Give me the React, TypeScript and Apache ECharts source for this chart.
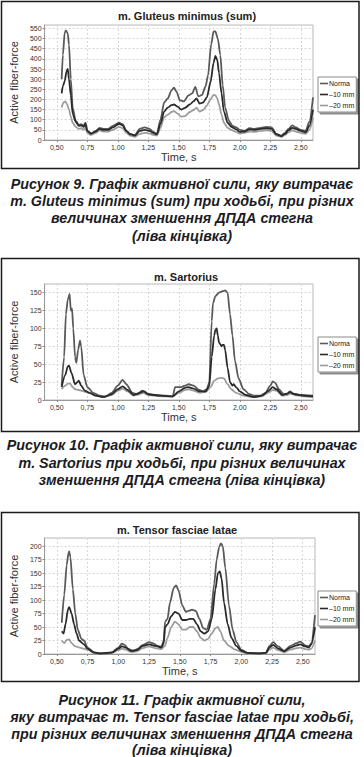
import React, { useEffect, useRef } from 'react';
import * as echarts from 'echarts';

const seriesNames = ['Norma', '–10 mm', '–20 mm'];
const chartTitles = ['m. Gluteus minimus (sum)', 'm. Sartorius', 'm. Tensor fasciae latae'];
const xAxisTitle = 'Time, s';
const yAxisTitle = 'Active fiber-force';
const xTicks = [0.5, 0.75, 1.0, 1.25, 1.5, 1.75, 2.0, 2.25, 2.5];
const gluteusTicks = [0, 50, 100, 150, 200, 250, 300, 350, 400, 450, 500, 550];
const sartoriusTicks = [0, 25, 50, 75, 100, 125, 150];
const tensorTicks = [0, 25, 50, 75, 100, 125, 150, 175, 200];

const gluteusNorma = [[0.54,300],[0.55,420],[0.565,530],[0.575,540],[0.59,525],[0.60,470],[0.615,300],[0.63,160],[0.655,95],[0.68,75],[0.70,78],[0.72,70],[0.735,85],[0.75,45],[0.78,30],[0.82,45],[0.85,60],[0.88,55],[0.92,55],[0.96,70],[1.01,85],[1.04,78],[1.07,45],[1.10,28],[1.14,25],[1.18,55],[1.22,62],[1.26,55],[1.29,40],[1.32,30],[1.35,100],[1.38,185],[1.41,205],[1.44,245],[1.46,258],[1.48,240],[1.51,195],[1.54,190],[1.58,220],[1.61,230],[1.635,262],[1.66,215],[1.69,222],[1.72,265],[1.74,320],[1.765,470],[1.785,535],[1.80,535],[1.82,500],[1.84,420],[1.86,270],[1.88,160],[1.91,95],[1.94,70],[1.97,62],[2.00,50],[2.04,45],[2.08,58],[2.12,55],[2.17,60],[2.22,65],[2.26,62],[2.30,30],[2.34,22],[2.37,35],[2.40,55],[2.43,72],[2.46,62],[2.50,50],[2.54,45],[2.57,90],[2.60,210]];
const gluteusMinus10 = [[0.54,230],[0.55,265],[0.565,290],[0.58,340],[0.59,350],[0.60,300],[0.615,220],[0.63,130],[0.655,90],[0.68,70],[0.70,72],[0.72,65],[0.735,80],[0.75,45],[0.78,32],[0.82,42],[0.85,55],[0.88,50],[0.92,50],[0.96,62],[1.01,80],[1.04,72],[1.07,45],[1.10,30],[1.14,22],[1.18,45],[1.22,50],[1.26,45],[1.29,35],[1.32,28],[1.35,80],[1.38,140],[1.41,160],[1.44,172],[1.46,175],[1.49,165],[1.52,150],[1.55,158],[1.59,175],[1.62,190],[1.645,205],[1.67,180],[1.70,185],[1.73,210],[1.76,285],[1.785,380],[1.80,415],[1.815,395],[1.83,330],[1.85,230],[1.87,140],[1.90,85],[1.93,65],[1.97,52],[2.00,40],[2.04,42],[2.08,52],[2.12,50],[2.17,55],[2.22,58],[2.26,55],[2.30,28],[2.34,18],[2.37,30],[2.40,48],[2.43,60],[2.46,55],[2.50,45],[2.54,38],[2.57,70],[2.60,150]];
const gluteusMinus20 = [[0.54,160],[0.555,185],[0.57,190],[0.585,175],[0.60,150],[0.615,115],[0.63,85],[0.655,65],[0.68,55],[0.70,58],[0.72,50],[0.735,60],[0.75,35],[0.78,25],[0.82,35],[0.85,48],[0.88,42],[0.92,42],[0.96,50],[1.01,65],[1.04,58],[1.07,35],[1.10,22],[1.14,16],[1.18,30],[1.22,35],[1.26,33],[1.29,25],[1.32,22],[1.35,60],[1.38,112],[1.41,125],[1.44,138],[1.46,142],[1.49,130],[1.52,115],[1.55,118],[1.59,138],[1.62,148],[1.645,160],[1.67,140],[1.70,148],[1.73,170],[1.76,200],[1.785,222],[1.80,220],[1.815,205],[1.83,175],[1.85,125],[1.87,85],[1.90,60],[1.93,50],[1.97,40],[2.00,32],[2.04,35],[2.08,42],[2.12,40],[2.17,45],[2.22,48],[2.26,44],[2.30,22],[2.34,15],[2.37,25],[2.40,38],[2.43,48],[2.46,42],[2.50,35],[2.54,30],[2.57,50],[2.60,110]];

const sartoriusNorma = [[0.54,20],[0.56,60],[0.575,120],[0.59,140],[0.605,148],[0.615,125],[0.625,128],[0.635,100],[0.65,60],[0.66,52],[0.675,70],[0.69,83],[0.70,75],[0.72,35],[0.75,18],[0.80,10],[0.85,6],[0.90,5],[0.95,10],[1.00,20],[1.04,28],[1.07,22],[1.12,10],[1.16,8],[1.20,13],[1.22,12],[1.25,8],[1.30,7],[1.40,6],[1.45,5],[1.47,18],[1.52,18],[1.55,20],[1.58,22],[1.62,20],[1.67,14],[1.70,12],[1.73,15],[1.75,25],[1.77,110],[1.78,135],[1.80,145],[1.83,150],[1.86,152],[1.88,153],[1.90,150],[1.92,120],[1.94,90],[1.96,55],[1.99,30],[2.03,15],[2.08,8],[2.12,6],[2.17,6],[2.21,10],[2.25,20],[2.27,26],[2.29,24],[2.32,15],[2.36,8],[2.39,9],[2.41,12],[2.44,9],[2.50,7],[2.60,6]];
const sartoriusMinus10 = [[0.54,18],[0.57,35],[0.59,47],[0.60,48],[0.62,38],[0.65,22],[0.67,25],[0.68,27],[0.70,20],[0.73,13],[0.77,10],[0.82,6],[0.88,4],[0.95,8],[1.00,15],[1.04,19],[1.08,14],[1.13,7],[1.18,10],[1.21,12],[1.25,8],[1.35,6],[1.45,5],[1.50,12],[1.55,17],[1.58,18],[1.62,16],[1.67,12],[1.72,12],[1.75,20],[1.77,60],[1.79,90],[1.80,98],[1.81,100],[1.82,90],[1.83,80],[1.84,78],[1.85,75],[1.86,77],[1.87,77],[1.88,70],[1.90,45],[1.92,25],[1.94,20],[1.95,22],[1.97,18],[2.00,12],[2.05,7],[2.12,4],[2.18,6],[2.23,12],[2.27,18],[2.30,15],[2.35,7],[2.39,9],[2.41,11],[2.45,8],[2.52,6],[2.60,5]];
const sartoriusMinus20 = [[0.54,15],[0.57,20],[0.59,23],[0.61,23],[0.63,18],[0.65,15],[0.68,14],[0.72,12],[0.76,10],[0.82,6],[0.88,4],[0.95,7],[1.00,13],[1.04,16],[1.08,12],[1.13,6],[1.18,8],[1.21,10],[1.25,7],[1.35,5],[1.45,5],[1.50,10],[1.55,14],[1.58,15],[1.62,13],[1.67,10],[1.72,11],[1.76,18],[1.79,27],[1.82,30],[1.85,31],[1.87,30],[1.90,22],[1.93,15],[1.97,10],[2.03,6],[2.10,4],[2.18,5],[2.23,10],[2.27,14],[2.30,13],[2.35,6],[2.39,7],[2.41,9],[2.45,7],[2.52,5],[2.60,4]];

const tensorNorma = [[0.54,58],[0.56,110],[0.58,165],[0.595,188],[0.60,190],[0.61,180],[0.63,120],[0.65,75],[0.67,45],[0.70,28],[0.72,25],[0.75,12],[0.80,3],[0.85,1],[0.90,1],[0.95,3],[1.00,12],[1.03,19],[1.05,17],[1.08,10],[1.12,5],[1.16,10],[1.20,17],[1.25,22],[1.28,20],[1.32,15],[1.35,13],[1.37,25],[1.38,60],[1.40,65],[1.42,95],[1.45,122],[1.47,127],[1.49,118],[1.52,90],[1.55,78],[1.57,80],[1.60,82],[1.63,80],[1.66,65],[1.69,48],[1.72,45],[1.75,65],[1.78,130],[1.80,175],[1.82,198],[1.835,205],[1.85,200],[1.87,160],[1.90,90],[1.93,45],[1.96,22],[2.00,8],[2.05,2],[2.10,1],[2.15,1],[2.20,2],[2.23,15],[2.26,22],[2.30,14],[2.35,6],[2.40,15],[2.45,20],[2.48,23],[2.52,16],[2.55,14],[2.57,20],[2.60,72]];
const tensorMinus10 = [[0.54,42],[0.555,38],[0.57,55],[0.59,82],[0.60,87],[0.62,75],[0.64,55],[0.66,38],[0.68,25],[0.72,18],[0.75,10],[0.80,3],[0.85,1],[0.95,3],[1.00,10],[1.03,14],[1.06,12],[1.10,6],[1.15,7],[1.20,15],[1.25,18],[1.30,15],[1.35,12],[1.37,20],[1.38,50],[1.40,55],[1.43,70],[1.46,78],[1.49,75],[1.52,63],[1.55,63],[1.58,65],[1.61,65],[1.64,55],[1.67,42],[1.70,38],[1.73,42],[1.76,65],[1.79,120],[1.81,150],[1.825,153],[1.84,140],[1.86,95],[1.89,55],[1.92,30],[1.96,15],[2.00,6],[2.05,2],[2.15,1],[2.20,2],[2.23,12],[2.26,17],[2.30,10],[2.35,5],[2.40,12],[2.45,16],[2.48,18],[2.52,14],[2.55,12],[2.57,18],[2.60,50]];
const tensorMinus20 = [[0.54,25],[0.56,20],[0.58,26],[0.60,27],[0.62,20],[0.65,14],[0.70,11],[0.75,8],[0.80,2],[0.85,1],[0.95,2],[1.00,7],[1.03,10],[1.06,8],[1.10,4],[1.15,5],[1.20,11],[1.25,14],[1.30,11],[1.35,9],[1.38,15],[1.40,30],[1.43,50],[1.46,60],[1.49,55],[1.52,45],[1.55,45],[1.58,50],[1.61,50],[1.64,42],[1.67,30],[1.70,25],[1.73,28],[1.76,38],[1.79,48],[1.81,50],[1.83,42],[1.86,25],[1.90,15],[1.95,8],[2.00,4],[2.05,1],[2.15,1],[2.20,2],[2.23,8],[2.26,12],[2.30,7],[2.35,3],[2.40,8],[2.45,11],[2.48,12],[2.52,9],[2.55,8],[2.57,10],[2.60,25]];

const caption9 = ['Рисунок 9. Графік активної сили, яку витрачає', 'm. Gluteus minimus (sum) при ходьбі, при різних', 'величинах зменшення ДПДА стегна', '(ліва кінцівка)'];
const caption10 = ['Рисунок 10. Графік активної сили, яку витрачає', 'm. Sartorius при ходьбі, при різних величинах', 'зменшення ДПДА стегна (ліва кінцівка)'];
const caption11 = ['Рисунок 11. Графік активної сили,', 'яку витрачає m. Tensor fasciae latae при ходьбі,', 'при різних величинах зменшення ДПДА стегна', '(ліва кінцівка)'];

const lineColors = ['#5a5a5a', '#2a2a2a', '#9c9c9c'];
const FONT = '"Liberation Sans", Arial, sans-serif';

const panels = [
  { data: [gluteusNorma, gluteusMinus10, gluteusMinus20], yTicks: gluteusTicks, yMax: 567, frameTop: 1, frameH: 167, gridTop: 25, gridH: 115, left: 37, width: 276, titleX: 187, titleY: 16, legendTop: 77, caption: caption9, capY: 184, capStep: 17.2 },
  { data: [sartoriusNorma, sartoriusMinus10, sartoriusMinus20], yTicks: sartoriusTicks, yMax: 162, frameTop: 258, frameH: 173, gridTop: 284, gridH: 116, left: 38, width: 275, titleX: 186, titleY: 277, legendTop: 337, caption: caption10, capY: 445, capStep: 17.7 },
  { data: [tensorNorma, tensorMinus10, tensorMinus20], yTicks: tensorTicks, yMax: 215, frameTop: 512, frameH: 169, gridTop: 538, gridH: 116, left: 38, width: 277, titleX: 177, titleY: 530, legendTop: 591, caption: caption11, capY: 700, capStep: 16.8 },
];

export default function App() {
  const ref = useRef<HTMLDivElement>(null);
  useEffect(() => {
    if (!ref.current) return;
    const chart = echarts.init(ref.current, undefined, { renderer: 'svg' });
    const grid: any[] = [];
    const xAxis: any[] = [];
    const yAxis: any[] = [];
    const series: any[] = [];
    const title: any[] = [];
    const legend: any[] = [];
    const graphic: any[] = [];
    panels.forEach((p, i) => {
      grid.push({ left: p.left, top: p.gridTop, width: p.width, height: p.gridH, show: true, borderColor: '#b8b8b8', borderWidth: 1, backgroundColor: '#fff' });
      xAxis.push({
        type: 'value', gridIndex: i, min: 0.4, max: 2.6,
        name: xAxisTitle, nameLocation: 'middle', nameGap: 11,
        nameTextStyle: { fontSize: 11, color: '#333', fontFamily: FONT },
        axisLine: { show: true, lineStyle: { color: '#999' } },
        axisTick: { show: true, length: 2, customValues: xTicks, lineStyle: { color: '#888' } },
        axisLabel: { customValues: xTicks, fontSize: 7, color: '#333', margin: 4, fontFamily: FONT, formatter: (v: number) => v.toFixed(2).replace('.', ',') },
        splitLine: { show: true, lineStyle: { color: '#d6d6d6', type: [2, 2], width: 1 } },
      });
      yAxis.push({
        type: 'value', gridIndex: i, min: 0, max: p.yMax,
        name: yAxisTitle, nameLocation: 'middle', nameGap: 17,
        nameTextStyle: { fontSize: 11, color: '#333', fontFamily: FONT },
        axisLine: { show: true, lineStyle: { color: '#999' } },
        axisTick: { show: true, length: 2, customValues: p.yTicks, lineStyle: { color: '#888' } },
        axisLabel: { customValues: p.yTicks, fontSize: 7, color: '#333', margin: 3, fontFamily: FONT },
        splitLine: { show: true, lineStyle: { color: '#d6d6d6', type: [2, 2], width: 1 } },
      });
      [2, 0, 1].forEach((k) => {
        series.push({
          type: 'line', name: seriesNames[k], xAxisIndex: i, yAxisIndex: i,
          data: p.data[k], symbol: 'none', smooth: 0.25, smoothMonotone: 'x',
          lineStyle: { color: lineColors[k], width: 1.8 }, itemStyle: { color: lineColors[k] },
          z: k === 1 ? 4 : 3,
        });
      });
      title.push({
        text: chartTitles[i], left: p.titleX, top: p.titleY - 6, textAlign: 'center', padding: 0,
        textStyle: { fontSize: 11, fontWeight: 'bold', color: '#222', fontFamily: FONT },
      });
      legend.push({
        data: seriesNames, orient: 'vertical', left: 318, top: p.legendTop,
        icon: 'rect', itemWidth: 8, itemHeight: 1.6, itemGap: 4, padding: [3, 2, 3, 2],
        backgroundColor: '#fff', borderColor: '#8a8a8a', borderWidth: 1,
        shadowColor: 'rgba(0,0,0,0.45)', shadowOffsetX: 2, shadowOffsetY: 2, shadowBlur: 0,
        textStyle: { fontSize: 7, color: '#222', fontFamily: FONT, padding: [0, 0, 0, -4] },
        selectedMode: false,
      });
      graphic.push({
        type: 'rect', shape: { x: 1.5, y: p.frameTop + 0.5, width: 357.5, height: p.frameH },
        style: { fill: 'none', stroke: '#1a1a1a', lineWidth: 1.5 }, z: 10,
      });
      p.caption.forEach((line, j) => {
        graphic.push({
          type: 'text', x: 182, y: p.capY + j * p.capStep,
          style: { text: line, align: 'center', verticalAlign: 'middle', fontSize: 14.3, fontWeight: 'bold', fontStyle: 'italic', fontFamily: FONT, fill: '#1c1c24' },
        });
      });
    });
    chart.setOption({ animation: false, backgroundColor: '#fff', grid, xAxis, yAxis, series, title, legend, graphic });
    return () => chart.dispose();
  }, []);
  return <div ref={ref} style={{ position: 'absolute', left: 0, top: 0, width: 364, height: 757 }} />;
}
